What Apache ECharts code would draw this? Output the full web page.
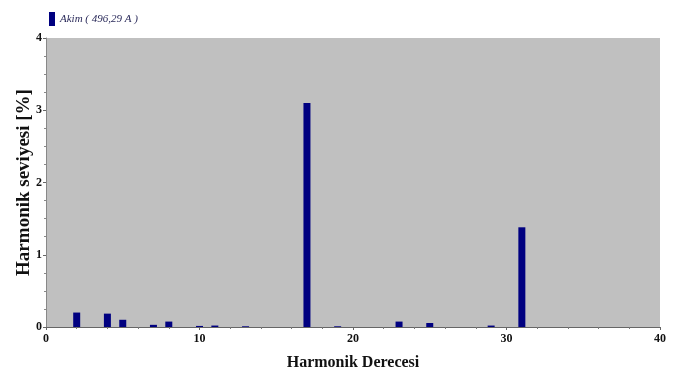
<!DOCTYPE html>
<html><head><meta charset="utf-8">
<script src="https://cdn.jsdelivr.net/npm/echarts@6/dist/echarts.min.js"></script>
<style>html,body{margin:0;padding:0;background:#fff}#c{width:682px;height:376px}</style>
</head><body><div id="c"></div>
<script>
const harmonics = [2, 4, 5, 7, 8, 10, 11, 13, 17, 19, 23, 25, 29, 31];
const levels    = [0.20, 0.185, 0.10, 0.03, 0.075, 0.015, 0.02, 0.01, 3.10, 0.01, 0.075, 0.055, 0.02, 1.38];
const seriesName = 'Akim ( 496,29 A )';
const xTitle = 'Harmonik Derecesi';
const yTitle = 'Harmonik seviyesi [%]';

const chart = echarts.init(document.getElementById('c'));
const serif = '"Liberation Serif", "DejaVu Serif", serif';
chart.setOption({
  animation: false,
  backgroundColor: '#fff',
  legend: {
    left: 44, top: 7, itemWidth: 6, itemHeight: 14, itemGap: 5,
    icon: 'rect',
    textStyle: { fontFamily: serif, fontStyle: 'italic', fontSize: 11, color: '#2a2a5a' },
    data: [seriesName]
  },
  grid: { left: 46, right: 22, top: 38, bottom: 49, show: true, backgroundColor: '#c0c0c0', borderWidth: 0, outerBoundsMode: 'none', containLabel: false },
  xAxis: {
    type: 'value', min: 0, max: 40, interval: 10,
    name: xTitle, nameLocation: 'middle', nameGap: 28,
    nameTextStyle: { fontFamily: serif, fontWeight: 'bold', fontSize: 16, color: '#111' },
    axisLine: { show: true, lineStyle: { color: '#666', width: 1 } },
    axisTick: { show: true, length: 3, lineStyle: { color: '#666' } },
    minorTick: { show: true, splitNumber: 5, length: 2, lineStyle: { color: '#777' } },
    splitLine: { show: false },
    axisLabel: { fontFamily: serif, fontWeight: 'bold', fontSize: 12, color: '#111', margin: 6 }
  },
  yAxis: {
    type: 'value', min: 0, max: 4, interval: 1,
    name: yTitle, nameLocation: 'middle', nameGap: 12, nameRotate: 90, nameMoveOverlap: false,
    nameTextStyle: { fontFamily: serif, fontWeight: 'bold', fontSize: 19, color: '#111' },
    axisLine: { show: true, lineStyle: { color: '#888', width: 1 } },
    axisTick: { show: true, length: 3, lineStyle: { color: '#666' } },
    minorTick: { show: true, splitNumber: 4, length: 2, lineStyle: { color: '#888' } },
    splitLine: { show: false },
    axisLabel: { fontFamily: serif, fontWeight: 'bold', fontSize: 12, color: '#111', margin: 4 }
  },
  series: [{
    name: seriesName, type: 'bar', barWidth: 7,
    itemStyle: { color: '#000080' },
    data: harmonics.map((h, i) => [h, levels[i]])
  }]
});
</script></body></html>
